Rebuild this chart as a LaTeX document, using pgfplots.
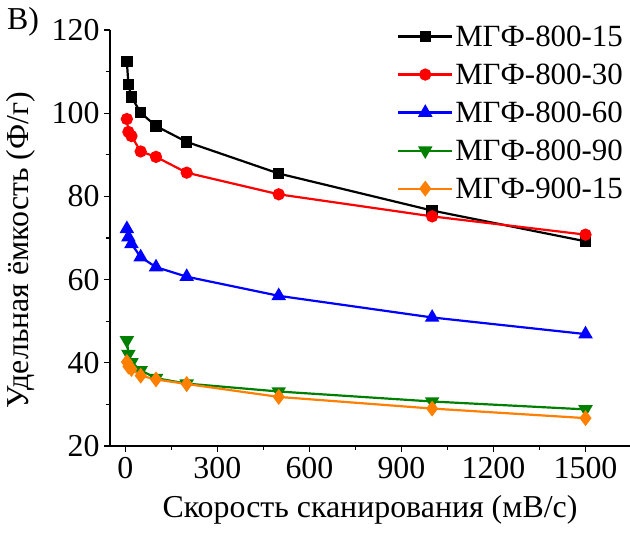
\documentclass[border=0pt]{standalone}
\usepackage{fontspec}
\setmainfont{Liberation Serif}
\usepackage{pgfplots}
\pgfplotsset{compat=1.18}
\definecolor{cgreen}{RGB}{0,128,0}
\definecolor{corange}{RGB}{255,128,0}
\begin{document}
\begin{tikzpicture}
\begin{axis}[
  at={(0,0)}, anchor=south west,
  scale only axis, width=520bp, height=416bp,
  xmin=-50, xmax=1645, ymin=20, ymax=120,
  axis x line*=bottom, axis y line*=left,
  axis line style={line width=1.3bp},
  tick style={line width=1.1bp, black},
  tick align=outside,
  major tick length=6bp, minor tick length=4bp,
  xtick={0,300,...,1500}, minor x tick num=1,
  ytick={20,40,...,120}, minor y tick num=1,
  /pgf/number format/assume math mode=true,
  /pgf/number format/1000 sep={},
  ticklabel style={font=\fontsize{32}{36}\selectfont},
  xticklabel style={yshift=-2bp},
  yticklabel style={xshift=-1bp},
  label style={font=\fontsize{32}{36}\selectfont},
  xlabel={Скорость сканирования (мВ/с)},
  ylabel={Удельная ёмкость (Ф/г)},
  xlabel style={at={(axis description cs:0.5,-0.154)}, anchor=center},
  ylabel style={at={(axis description cs:-0.172,0.471)}, anchor=center},
  legend style={at={(axis description cs:0.552,1.016)}, anchor=north west,
    draw=none, fill=none, font=\fontsize{31}{35}\selectfont,
    row sep=12bp, inner sep=0pt},
  legend cell align=left,
  legend image code/.code={\draw[mark repeat=2,mark phase=2] plot coordinates {(0cm,0cm) (0.95cm,0cm) (1.9cm,0cm)};},
]
\addplot[black, line width=2.2bp, mark=square*, mark size=4.6bp, mark options={solid}] coordinates {
(5,112.4) (10,106.9) (20,103.9) (50,100.1) (100,96.9) (200,93.1) (500,85.5) (1000,76.6) (1500,69.2)};
\addlegendentry{МГФ-800-15}
\addplot[red, line width=2.2bp, mark=*, mark size=5bp] coordinates {
(5,98.6) (10,95.5) (20,94.5) (50,90.8) (100,89.5) (200,85.7) (500,80.5) (1000,75.2) (1500,70.8)};
\addlegendentry{МГФ-800-30}
\addplot[blue, line width=2.2bp, mark=triangle*, mark size=6.2bp] coordinates {
(5,72.2) (10,70.2) (20,68.6) (50,65.4) (100,63.0) (200,60.7) (500,56.1) (1000,50.9) (1500,46.9)};
\addlegendentry{МГФ-800-60}
\addplot[cgreen, line width=2.2bp, mark=triangle*, mark size=6.2bp, mark options={rotate=180}] coordinates {
(5,45.4) (10,42.1) (20,40.1) (50,38.2) (100,36.3) (200,35.0) (500,33.1) (1000,30.7) (1500,28.8)};
\addlegendentry{МГФ-800-90}
\addplot[corange, line width=2.2bp, mark=diamond*, mark size=6.2bp] coordinates {
(5,40.2) (10,39.1) (20,38.5) (50,36.9) (100,36.0) (200,34.9) (500,31.8) (1000,29.0) (1500,26.7)};
\addlegendentry{МГФ-900-15}
\end{axis}
\node[anchor=west, font=\fontsize{32}{36}\selectfont, inner sep=0pt] at (-103bp,424bp) {В)};
\pgfresetboundingbox
\path (-110bp,-90bp) rectangle (520bp,446bp);
\end{tikzpicture}
\end{document}
